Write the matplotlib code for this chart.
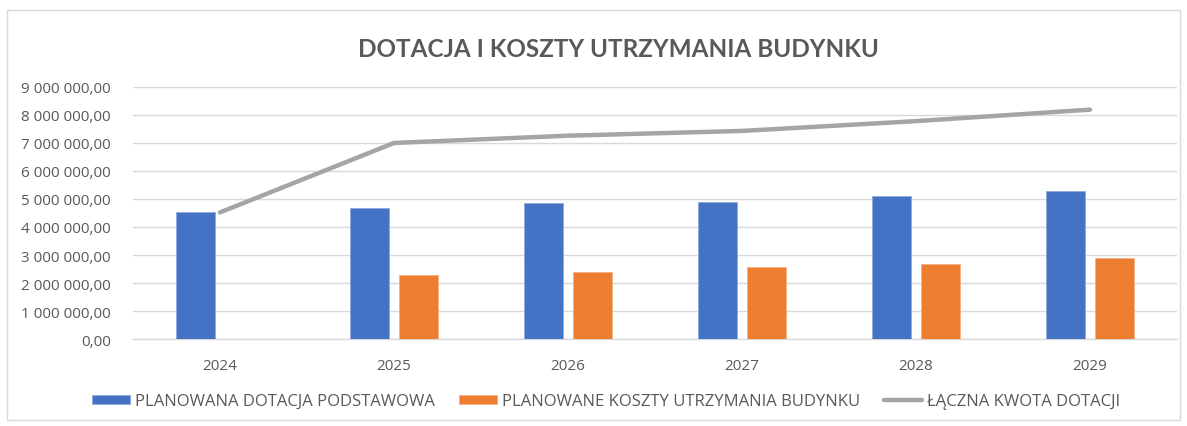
import matplotlib
matplotlib.use("Agg")
import matplotlib.pyplot as plt
import numpy as np
from matplotlib.patches import Rectangle

years = ["2024", "2025", "2026", "2027", "2028", "2029"]
dotacja = [4520000, 4680000, 4850000, 4900000, 5120000, 5290000]
koszty = [0, 2300000, 2400000, 2560000, 2690000, 2890000]
laczna = [4520000, 7000000, 7260000, 7430000, 7780000, 8190000]
yticks = [0, 1000000, 2000000, 3000000, 4000000, 5000000, 6000000, 7000000, 8000000, 9000000]

title = "DOTACJA I KOSZTY UTRZYMANIA BUDYNKU"
labels = ["PLANOWANA DOTACJA PODSTAWOWA", "PLANOWANE KOSZTY UTRZYMANIA BUDYNKU", "ŁĄCZNA KWOTA DOTACJI"]

plt.rcParams['font.family'] = ['Open Sans', 'DejaVu Sans']
txt = "#595959"

fig = plt.figure(figsize=(11.87, 4.27), dpi=100)
fig.patches.append(Rectangle((0.006, 0.015), 0.988, 0.96, transform=fig.transFigure,
                             fill=False, edgecolor="#d9d9d9", linewidth=1))
ax = fig.add_axes([0.112, 0.2037, 0.8796, 0.5903])

x = np.arange(len(years))
w = 0.224
off = 0.139
b1 = ax.bar(x - off, dotacja, w, color="#4472c4", edgecolor="#8fa9dc", linewidth=0.6, zorder=3, label=labels[0])
b2 = ax.bar(x + off, koszty, w, color="#ed7d31", edgecolor="#f4b183", linewidth=0.6, zorder=3, label=labels[1])
l1, = ax.plot(x, laczna, color="#a5a5a5", linewidth=3.2, solid_capstyle="round", zorder=4, label=labels[2])

ax.set_xlim(-0.5, len(years) - 0.5)
ax.set_ylim(0, 9000000)
ax.set_yticks(yticks)
ax.set_yticklabels([f"{v:,.2f}".replace(",", " ").replace(".", ",") for v in yticks])
ax.set_xticks(x)
ax.set_xticklabels(years)
ax.tick_params(axis="both", length=0, colors=txt, labelsize=11)
ax.tick_params(axis="x", pad=14)
ax.tick_params(axis="y", pad=16)
ax.grid(axis="y", color="#d9d9d9", linewidth=1, zorder=0)
for s in ["top", "right", "left"]:
    ax.spines[s].set_visible(False)
ax.spines["bottom"].set_color("#d9d9d9")
ax.spines["bottom"].set_linewidth(1)

fig.text(0.521, 0.883, title, ha="center", va="center", fontsize=17.5, fontweight="bold", color=txt,
         family=['Lato', 'Open Sans', 'DejaVu Sans'])

leg = fig.legend(handles=[b1, b2, l1], labels=labels, loc="center", bbox_to_anchor=(0.5105, 0.058),
                 ncol=3, frameon=False, fontsize=12, handlelength=2.28, handleheight=0.5,
                 columnspacing=1.45, handletextpad=0.3)
for t in leg.get_texts():
    t.set_color(txt)

fig.savefig("out.png", dpi=100)
